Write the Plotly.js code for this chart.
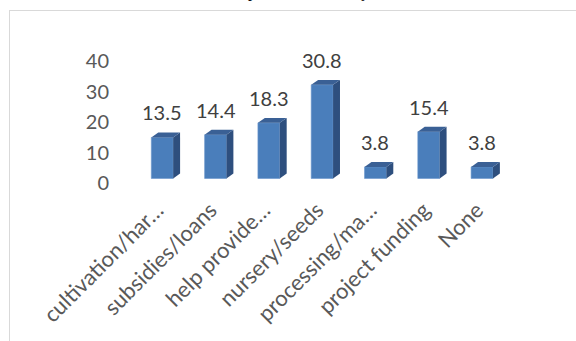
<!DOCTYPE html>
<html><head><meta charset="utf-8">
<script src="https://cdn.plot.ly/plotly-3.0.1.min.js"></script>
<style>
html,body{margin:0;padding:0;background:#fff;}
#wrap{position:relative;width:576px;height:341px;overflow:hidden;background:#fff;}
#cap{position:absolute;left:20px;top:-16px;font-family:"Liberation Serif";font-size:16px;line-height:16px;white-space:nowrap;color:#000;}
#frame{position:absolute;left:9px;top:10px;width:700px;height:500px;border-left:1.5px solid #D9D9D9;border-top:1.5px solid #D9D9D9;}
#chart{position:absolute;left:0;top:0;width:576px;height:341px;}
</style></head>
<body><div id="wrap"><div id="cap">the contribution of the CSOs to the provision of aid by the bureau .</div><div id="frame"></div><div id="chart"></div></div>
<script>
const categories = ["cultivation/har…", "subsidies/loans", "help provide…", "nursery/seeds", "processing/ma…", "project funding", "None"];
const values = [13.5, 14.4, 18.3, 30.8, 3.8, 15.4, 3.8];
const yTicks = [0, 10, 20, 30, 40];

const xs = categories.map((c, i) => i);
const W = 0.41, DX = 0.13, DY = 1.64;
const FRONT = '#4A7EBB', SIDE = '#2E4F7E', TOP = '#3A6095';

const traces = [{
  type: 'bar', x: xs, y: values, width: W,
  marker: {color: FRONT, line: {color: '#6A96CC', width: 0.6}},
  hoverinfo: 'none', xaxis: 'x', yaxis: 'y'
}];
values.forEach((v, i) => {
  const r = i + W / 2, l = i - W / 2;
  traces.push({type: 'scatter', mode: 'lines', fill: 'toself', fillcolor: SIDE,
    line: {width: 0, color: SIDE}, hoverinfo: 'none',
    x: [r, r + DX, r + DX, r, r], y: [0, DY, v + DY, v, 0]});
  traces.push({type: 'scatter', mode: 'lines', fill: 'toself', fillcolor: TOP,
    line: {width: 0, color: TOP}, hoverinfo: 'none',
    x: [l, l + DX, r + DX, r, l], y: [v, v + DY, v + DY, v, v]});
});
traces.push({type: 'scatter', x: [0], y: [0], yaxis: 'y2', mode: 'markers', marker: {opacity: 0}, hoverinfo: 'none'});

const annotations = values.map((v, i) => ({
  x: i, y: v, xref: 'x', yref: 'y', text: v.toFixed(1), showarrow: false,
  yanchor: 'middle', yshift: 25, font: {family: 'Lato, Noto Sans', size: 20, color: '#404040'}
}));

const layout = {
  width: 576, height: 341,
  margin: {l: 110, r: 46, t: 40, b: 155},
  paper_bgcolor: 'rgba(0,0,0,0)', plot_bgcolor: 'rgba(0,0,0,0)',
  showlegend: false,
  xaxis: {range: [-0.98, 6.9], tickvals: xs, ticktext: categories, tickangle: -45,
    showgrid: false, zeroline: false, showline: false, ticks: '',
    ticklabelshift: -5, ticklabelstandoff: 6,
    tickfont: {family: 'Lato, Noto Sans', size: 22, color: '#595959'}},
  yaxis: {range: [-2.47, 45.56], showticklabels: false, showgrid: false, zeroline: false, showline: false, ticks: ''},
  yaxis2: {overlaying: 'y', side: 'left', range: [-0.99, 47.04], tickvals: yTicks,
    showgrid: false, zeroline: false, showline: false, ticks: '',
    tickfont: {family: 'Lato, Noto Sans', size: 20, color: '#595959'}},
  annotations: annotations
};
Plotly.newPlot('chart', traces, layout, {displayModeBar: false, staticPlot: true});
</script>
</body></html>
